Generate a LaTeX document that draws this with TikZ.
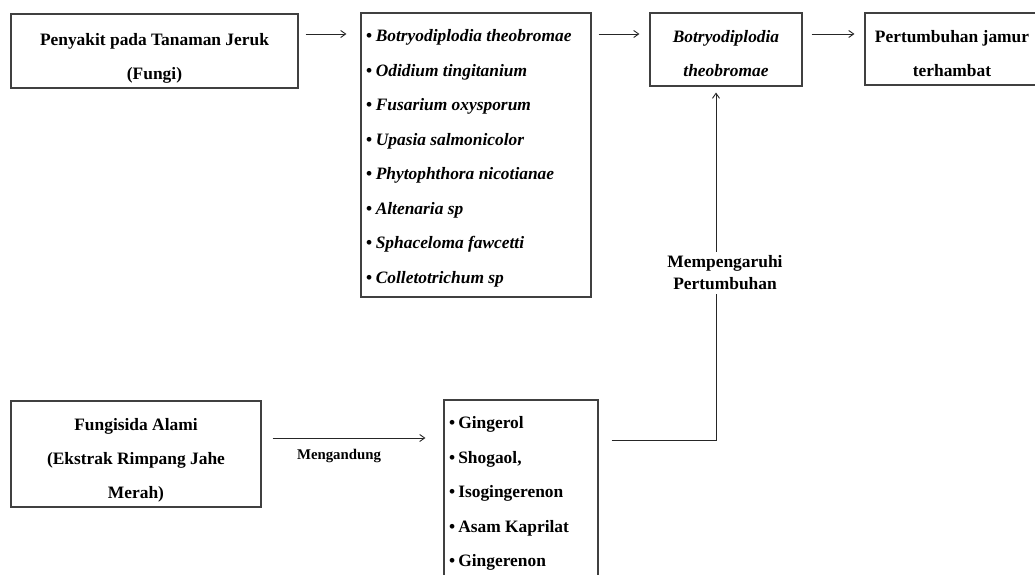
\documentclass[tikz,border=0pt]{standalone}
\usepackage{fontspec}
\setmainfont{Liberation Serif}
\usetikzlibrary{arrows.meta}
\begin{document}
\begin{tikzpicture}[x=1pt,y=-1pt,
  box/.style={draw=black!75,line width=1.1pt,inner sep=0pt,fill=none},
  txt/.style={inner sep=0pt,align=center,font=\fontsize{17.4}{34}\selectfont\bfseries},
  lst/.style={inner sep=0pt,align=left,font=\fontsize{17.4}{34.5}\selectfont\bfseries},
  lbl/.style={inner sep=0pt,align=center,font=\fontsize{14.8}{18}\selectfont\bfseries},
  arr/.style={draw=black!85,line width=0.9pt,-{Straight Barb[length=5pt,width=7pt]}}]
\useasboundingbox (0,0) rectangle (1035,575);
\fill[white] (0,0) rectangle (1035,575);
% boxes
\node[box,minimum width=287,minimum height=74] (pen) at (154.5,51) {};
\node[box,minimum width=230,minimum height=284] (fun) at (476,155) {};
\node[box,minimum width=152,minimum height=73] (bot) at (726,49.5) {};
\node[box,minimum width=176,minimum height=72] (per) at (953,49) {};
\node[box,minimum width=250,minimum height=106] (fs) at (136,454) {};
\node[box,minimum width=154,minimum height=190] (gin) at (521,495) {};
% texts
\node[txt] (pent) at (154.5,58) {Penyakit pada Tanaman Jeruk\\(Fungi)};
\node[lst,anchor=west] (funt) at (366,158.5) {%
\textbullet\hspace{3.5pt}\textit{Botryodiplodia theobromae}\\
\textbullet\hspace{3.5pt}\textit{Odidium tingitanium}\\
\textbullet\hspace{3.5pt}\textit{Fusarium oxysporum}\\
\textbullet\hspace{3.5pt}\textit{Upasia salmonicolor}\\
\textbullet\hspace{3.5pt}\textit{Phytophthora nicotianae}\\
\textbullet\hspace{3.5pt}\textit{Altenaria sp}\\
\textbullet\hspace{3.5pt}\textit{Sphaceloma fawcetti}\\
\textbullet\hspace{3.5pt}\textit{Colletotrichum sp}};
\node[txt] (bott) at (726,54) {\textit{Botryodiplodia}\\\textit{theobromae}};
\node[txt] (pert) at (952,54) {Pertumbuhan jamur\\terhambat};
\node[txt] (fst) at (136,460) {Fungisida Alami\\(Ekstrak Rimpang Jahe\\Merah)};
\node[lst,anchor=west] (gint) at (449,493.5) {%
\textbullet\hspace{3pt}Gingerol\\
\textbullet\hspace{3pt}Shogaol,\\
\textbullet\hspace{3pt}Isogingerenon\\
\textbullet\hspace{3pt}Asam Kaprilat\\
\textbullet\hspace{3pt}Gingerenon};
% connectors
\coordinate (row) at (0,34);
\coordinate (low) at (0,438);
\coordinate (mid) at (0,440);
\draw[arr,shorten <=7pt,shorten >=14pt] (pen.east |- row) -- (fun.west |- row);
\draw[arr,shorten <=7pt,shorten >=10pt] (fun.east |- row) -- (bot.west |- row);
\draw[arr,shorten <=9pt,shorten >=10pt] (bot.east |- row) -- (per.west |- row);
\draw[arr,shorten <=11pt,shorten >=18pt] (fs.east |- low) -- (gin.west |- low);
\node[lbl] (meng) at (339,456) {Mengandung};
\coordinate (up) at ([xshift=-10pt]bot.south);
\draw[arr,shorten <=13pt,shorten >=6pt] (gin.east |- mid) -| (up);
\node[txt,fill=white,inner sep=4pt,font=\fontsize{17.4}{22}\selectfont\bfseries] (mp) at (725,273) {Mempengaruhi\\Pertumbuhan};
\end{tikzpicture}
\end{document}
